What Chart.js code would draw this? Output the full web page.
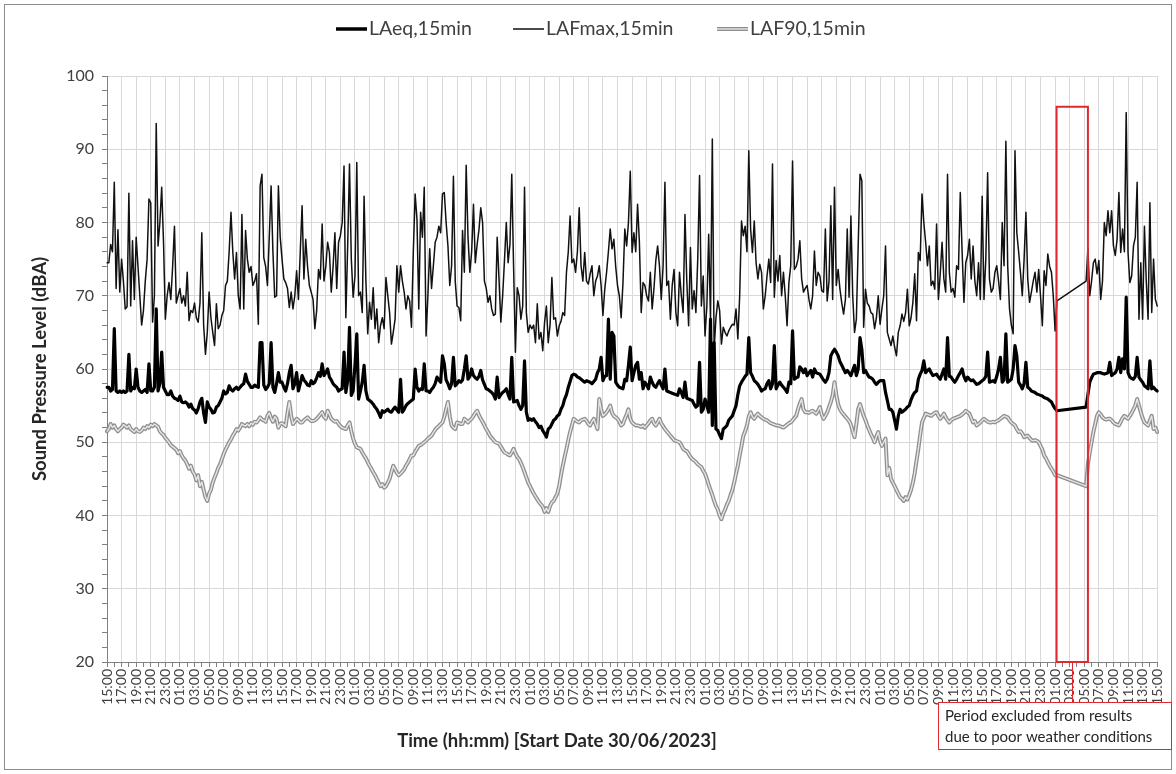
<!DOCTYPE html>
<html>
<head>
<meta charset="utf-8">
<title>Sound Pressure Level</title>
<script src="https://cdn.jsdelivr.net/npm/chart.js@4.4.1/dist/chart.umd.min.js"></script>
<style>
  html, body { margin: 0; padding: 0; background: #fff; }
  #wrap { position: relative; width: 1176px; height: 774px; }
</style>
</head>
<body>
<div id="wrap"><canvas id="splChart"></canvas></div>
<script>
// 15 minute samples from 30/06/2023 15:00, one row = 2 hours (8 samples)
const START_MINUTES = 15 * 60;
const STEP_MINUTES = 15;

const laeq = [
  57.5, 57.5, 57, 57.2, 65.5, 57, 56.8, 57,
  56.8, 57, 56.8, 57, 62, 57, 57.5, 57.3,
  60, 57.5, 57, 56.8, 57, 57.2, 56.8, 60.7,
  57, 57, 57.5, 68.2, 57, 58, 62.3, 57.5,
  57, 56.5, 56.5, 57, 56.3, 56, 55.9, 55.7,
  56.3, 55.5, 55.4, 55.5, 55.3, 54.8, 55.2, 54.6,
  54.4, 54, 54.6, 55.5, 56, 54, 52.7, 55.5,
  54.8, 54.5, 54, 54.1, 54.8, 55, 55.5, 56,
  57, 56.6, 56.8, 57.7, 57.2, 57, 57.3, 57.5,
  57.2, 57.5, 57.8, 58, 59.3, 58.3, 57.9, 57.5,
  57.5, 57.8, 57.6, 57.5, 63.6, 63.6, 57.8, 57.2,
  57.5, 58, 63.6, 57.5, 56.8, 58, 59.5, 58.2,
  58.2, 57.5, 57, 58, 59.5, 60.5, 57.3, 58,
  59.5, 57, 58, 59.1, 58.5, 58.2, 57.8, 57.7,
  58.4, 58, 58.2, 58.8, 59.5, 59, 60.7, 59.1,
  59.5, 60, 58.9, 58.5, 58, 57.7, 57.5, 57,
  57.2, 57.3, 62.3, 56.8, 58.4, 65.7, 56.4, 57,
  60.5, 64.8, 55.9, 57, 58.2, 60.5, 57, 55.9,
  55.7, 55.5, 55.2, 54.8, 54.5, 54, 53.4, 54.3,
  54.1, 54.3, 54.5, 54.2, 54.1, 54.5, 54.8, 54.4,
  54.1, 58.6, 54.1, 54.5, 55, 55.3, 55.5, 55.7,
  55.9, 60, 57.5, 57, 57.3, 57.2, 60.7, 57,
  57, 56.8, 57.2, 57.5, 58, 58.9, 58.5, 58.2,
  61.8, 60.7, 58.5, 58, 57.3, 58, 61.6, 57.7,
  58, 58.4, 58.2, 58.5, 60, 61.8, 58.6, 59,
  60, 59.1, 58.8, 58.6, 59, 59.8, 58.5, 57.9,
  57.3, 57.2, 57, 56.8, 56.5, 55.9, 58.9, 56.1,
  56.5, 56.8, 57, 57.3, 56.5, 55.9, 61.6, 55.5,
  55.6, 55.7, 55, 54.5, 55, 61.1, 54.1, 53,
  53.2, 53, 53.2, 52.8, 52.5, 52, 52.2, 51.6,
  51.2, 50.7, 51.8, 52, 52.5, 53, 53.2, 53.6,
  53.8, 54.5, 55, 55.9, 56.5, 57.5, 58.3, 59.1,
  59.3, 59.2, 58.9, 58.8, 58.6, 58.4, 58.2, 58.4,
  58.3, 58.2, 58, 58.3, 58.6, 59.5, 60, 61.6,
  58.4, 59, 59.1, 66.8, 58.6, 65, 64.5, 58.2,
  57.8, 57.5, 57.4, 57.3, 58.6, 58.4, 60.5, 63,
  58.4, 59.5, 60.5, 60.9, 58.6, 59.5, 57.3, 58.2,
  57.8, 57.3, 58.9, 58.2, 57.7, 57.5, 58, 58.4,
  57.8, 57.3, 60, 57, 56.9, 56.8, 56.7, 56.6,
  56.5, 56.4, 57.3, 56.8, 56.1, 58.2, 56, 55.9,
  55.8, 55.7, 55.2, 54.8, 55, 60.9, 54.1, 54.5,
  55.9, 55, 54.1, 66.8, 52.3, 63.6, 51.8, 51.6,
  51, 50.5, 51.8, 52, 52.3, 53, 53.3, 53.6,
  54.3, 55, 56.5, 57.7, 58.2, 58.6, 59, 59.3,
  64.3, 59.5, 59, 58.4, 58.2, 57.9, 57.5, 57,
  57.2, 57.3, 58, 58.4, 57.3, 58, 63.2, 57.3,
  57.8, 58.2, 57.8, 57.5, 57.2, 56.8, 58.2, 58,
  65.2, 58.6, 58.8, 58.9, 60.3, 60, 59.5, 60,
  59.1, 59.5, 59.8, 58.9, 60, 59.5, 59.4, 59.3,
  58.9, 58.5, 58.2, 58.6, 59.5, 61.8, 62.3, 62.7,
  62.3, 61.8, 61, 60.5, 60, 59.5, 59.8, 59.5,
  59.1, 59.8, 60.5, 59.1, 60, 64.3, 62.7, 59.5,
  59.8, 59.3, 58.9, 58.8, 58.6, 58.2, 57.9, 58.2,
  58.4, 58.4, 58.4, 56.8, 55.7, 54.5, 54.5, 54.1,
  53, 51.8, 53.6, 54.5, 54.1, 54.3, 54.5, 54.8,
  55, 55.8, 56.4, 56.8, 57, 58.6, 59.3, 59.8,
  61.1, 59.5, 59.8, 60, 59.5, 59.1, 59.2, 59.3,
  58.9, 58.6, 59.3, 60, 58.6, 64.3, 59, 58.9,
  58.5, 58.2, 58.6, 59.1, 59.5, 60, 59, 58.4,
  58.9, 58.6, 58.4, 58.5, 58.2, 57.9, 58, 58.2,
  58.4, 58.6, 59, 62.3, 58.2, 58.3, 58.4, 58.2,
  59, 60, 61.6, 58.2, 58.5, 64.8, 58.2, 58.4,
  58.6, 60, 63.2, 61.8, 58.2, 57.8, 57.3, 58,
  60.9, 57.5, 57.3, 57, 56.9, 56.8, 56.6, 56.5,
  56.4, 56.3, 56.1, 56, 55.9, 55.7, 55.5, 55,
  54.6, 54.3, null, null, null, null, null, null,
  null, null, null, null, null, null, null, null,
  null, 54.8, 56.5, 58.2, 58.8, 59.3, 59.4, 59.5,
  59.5, 59.5, 59.4, 59.3, 59.4, 59.5, 60.9, 59.1,
  59.3, 59.5, 60, 61.6, 59.5, 61.4, 60, 69.8,
  59.5, 58.9, 58.7, 58.6, 59, 61.6, 58.9, 58.5,
  58.2, 57.7, 57.5, 57.3, 61.1, 57.3, 57.5, 57.2,
  57
];

const lafmax = [
  74.5, 74.5, 77, 76, 85.5, 71, 79, 70.5,
  75, 72, 68.2, 68.5, 84, 68.6, 77.5, 69.5,
  78, 74, 70, 66, 68, 72, 75, 83.2,
  82.7, 66.4, 70, 93.5, 76.8, 80, 84.8, 77.3,
  66.8, 70, 71.8, 69.5, 74, 79.5, 69, 70,
  71, 69, 70, 68.6, 73.2, 66.6, 68, 67.7,
  69, 67, 66.4, 69, 78.6, 66, 62, 65,
  70.5, 67, 65, 63.2, 68.9, 65.5, 66, 67.3,
  68, 71.4, 72, 76, 81.4, 76, 72.3, 75.9,
  70, 68.2, 81.1, 68.2, 78.9, 75, 73.2, 74,
  71.4, 72, 73, 66.1, 85, 86.6, 75.2, 74,
  71.4, 78, 85, 76, 69.8, 70, 85, 78,
  75, 72.3, 71.8, 71, 68.4, 70.5, 68.2, 70,
  73.4, 69.5, 76, 82.3, 72.3, 77.7, 74, 71.4,
  70.5, 69.5, 65.5, 68, 73.6, 72.3, 79.8, 72,
  74, 77.3, 75.9, 70.5, 74, 78.6, 71, 77.3,
  78.2, 80, 87.7, 67, 76.8, 88, 75, 69.8,
  72.7, 88.2, 70, 70.5, 67.7, 83.6, 72, 64.8,
  69.1, 66.8, 71.1, 65.5, 68.2, 63.6, 65.9, 67,
  65.5, 72.5, 70, 67.7, 63.4, 65, 66.8, 74.1,
  70.5, 74.1, 72, 70.5, 68.2, 70, 69.3, 65.7,
  76, 83.9, 80.5, 68.2, 81.4, 78, 84.8, 64.5,
  70, 76.4, 71, 74.1, 77.3, 78, 79.5, 78.6,
  83.9, 84.1, 80, 76.8, 71.4, 74.1, 86.3, 72,
  68.6, 68.4, 66.6, 78.9, 73.2, 87.8, 78, 73.2,
  76, 82.5, 74.5, 77, 79, 82, 80, 72,
  71, 69.1, 70, 68.2, 67.3, 67.5, 78, 72.3,
  66.4, 70, 74.8, 80, 74.5, 77, 86.6, 74,
  62.3, 71.1, 70, 66.8, 68.6, 84.8, 67.7, 65,
  66, 65.5, 66, 63.6, 68.9, 64.1, 65, 62.5,
  66.4, 68.6, 63.6, 66, 72.5, 66.8, 67, 64.5,
  65.9, 66.5, 67.7, 67.3, 73.2, 76, 80.9, 74.5,
  75, 73.2, 76, 82, 74.1, 72, 75.9, 72,
  71.6, 73, 74.1, 70, 72, 72.7, 74.1, 71.4,
  67.3, 70.9, 73.2, 76, 79.1, 76.4, 77.7, 74,
  71.4, 70, 67, 71.8, 79.1, 76.8, 80, 87,
  75.9, 78.6, 76, 82.5, 77.3, 67.7, 71.8, 71.4,
  70, 69.3, 73.2, 68.2, 71, 74.8, 76.8, 74.1,
  69.5, 74.1, 85.5, 71.4, 72, 66.8, 71.4, 73.6,
  67.7, 65.9, 73.2, 70, 67.7, 81.1, 72, 65.9,
  76.6, 68.2, 70.7, 67.7, 75, 86.4, 68.6, 72.7,
  64.5, 68.6, 78.4, 66.8, 91.4, 62.7, 67, 69.3,
  68, 63.4, 65.7, 65, 64.5, 65.2, 65.7, 66.1,
  66, 68.2, 64.1, 70, 80.2, 78.2, 79.5, 76,
  89.8, 79.1, 75.9, 80.2, 74.5, 72.3, 74.3, 73.2,
  68.2, 70, 72.7, 75, 71.8, 88, 69.8, 74.8,
  72, 75.5, 70, 73.2, 70, 65.9, 71.8, 74.1,
  88.4, 73.6, 74, 75, 77.5, 72.3, 70.5, 71,
  71.4, 69.5, 68.2, 70, 76.1, 71.4, 73.2, 72.7,
  70.7, 70.5, 79.1, 69.3, 72, 82.3, 69.5, 84.8,
  71.4, 73.6, 70.9, 69, 67.5, 69.5, 79.1, 69.8,
  80.9, 70, 65, 66.8, 76.8, 86.6, 85.7, 65.7,
  70.9, 69, 68.6, 67.7, 67.5, 65.5, 67, 70,
  66.1, 68.2, 70, 76.8, 65, 64.1, 63.2, 64.5,
  63, 61.8, 65, 65.9, 67.5, 66.5, 67.7, 70.9,
  65.9, 67, 69.1, 73, 66.6, 75.9, 74.8, 83.9,
  80, 77.3, 74.1, 76.8, 71.4, 72, 70.9, 79.8,
  69.5, 73, 77.3, 72.3, 70.5, 86.6, 73.2, 70.5,
  71, 69.8, 74.1, 73.6, 84.1, 76, 69.1, 74.5,
  75.5, 77.7, 72.3, 76.8, 72, 70, 74.5, 69.5,
  83.6, 69.5, 75, 86.8, 72.3, 70.5, 71, 73.2,
  74.1, 72, 69.5, 80, 74.1, 91.1, 74.1, 68.2,
  66, 64.8, 89.8, 78.6, 76, 73.2, 70, 75,
  81.4, 72.3, 69.1, 70.5, 72, 73.2, 70.5, 73.6,
  70, 65.9, 73.4, 71.4, 75.7, 74, 73.2, 70,
  65.2, 69.3, null, null, null, null, null, null,
  null, null, null, null, null, null, null, null,
  null, 72, 76.4, 70, 72, 74.5, 75, 73,
  74.8, 69.5, 72, 80, 78.2, 81.6, 78.6, 81.6,
  76.8, 75.5, 77.7, 84.1, 75.9, 79.1, 76, 95,
  75.9, 71.8, 72.7, 76.8, 78, 85.5, 66.8, 74.5,
  66.8, 79.5, 72, 66.8, 82.7, 67.7, 75, 69.5,
  68.6
];

const laf90 = [
  51.5, 51.8, 52.5, 52, 52.3, 51.8, 51.5, 51.8,
  52, 52.4, 52.2, 52, 52.3, 51.8, 51.6, 51.4,
  51.8, 51.5, 51.4, 51.6, 52, 51.8, 52.2, 52,
  52.4, 52.2, 52.5, 52.3, 52.1, 51.5, 51.2, 51,
  50.6, 50.3, 50, 49.6, 49.4, 49.2, 49, 48.5,
  48.8, 48.2, 47.8, 47.5, 47, 46.4, 46.8, 46,
  45.6, 44.8, 45.5, 44, 44.6, 43.5, 42.5, 42,
  43, 43.5, 44.5, 45.2, 45.8, 46.5, 47, 47.7,
  48.4, 49, 49.5, 50, 50.4, 50.9, 51.3, 51.8,
  51.6, 52, 52.5, 52.3, 52.2, 52.5, 52.2, 52.6,
  52.4, 52.8, 52.7, 53, 53.4, 53.1, 53, 52.8,
  53.6, 54, 53.3, 52.8, 53.5, 53.2, 52, 52.5,
  52.6, 52.4, 52.2, 54, 55.5, 53.6, 52.5, 52.8,
  53.2, 53, 52.7, 52.7, 53, 53.2, 53.4, 53.1,
  52.9, 52.9, 53, 53.2, 53.5, 53.8, 54.1, 53.5,
  53.2, 54.3, 53.8, 53.2, 53, 52.8, 52.9, 52.5,
  52.2, 52, 51.9, 51.8, 52.3, 52.7, 51.5, 50.5,
  49.8, 49.3, 49.2, 49.1, 48.6, 48.2, 47.8, 47.3,
  46.8, 46.4, 45.9, 45.5, 45, 44.5, 44, 44.3,
  43.8, 44, 44.5, 45, 45.9, 46.8, 46.3, 45.8,
  45.5, 45.7, 46, 46.3, 46.8, 47.2, 47.7, 48.2,
  48.2, 48.7, 49.1, 49.5, 49.6, 49.8, 50, 50.2,
  50.5, 50.7, 50.9, 51.3, 51.7, 52, 52.2, 52.5,
  52.7, 53.5, 54.5, 55.5, 53.5, 52.3, 52, 51.8,
  52.7, 52.6, 52.5, 52.5, 53.2, 53, 52.7, 53,
  53.2, 53.6, 54, 54.3, 53.7, 53.2, 52.8, 52.3,
  51.8, 51.4, 50.9, 50.6, 50.3, 50, 49.9, 49.8,
  49.4, 49, 48.6, 48.5, 48.3, 48.2, 48.6, 49.1,
  48.5, 48, 47.7, 47.2, 46.6, 45.9, 45.2, 44.5,
  44, 43.5, 43, 42.6, 42.2, 41.8, 41.5, 41.2,
  40.5, 41, 40.5, 41.3, 41.8, 42, 42.5, 43,
  44, 45.5, 46.8, 48, 49.1, 50.3, 51.4, 52.3,
  53.2, 53, 52.8, 52.7, 53, 53.1, 53.2, 52.9,
  52.5, 52.3, 52.8, 53.2, 52.5, 51.8, 55.9, 54.5,
  53.6, 53.8, 54.1, 54.5, 55, 54, 53.6, 53.4,
  53.2, 52.8, 52.3, 52.5, 53.2, 53.8, 54.5, 53.2,
  52.7, 52.5, 52.3, 52.3, 52.2, 52.1, 52.3, 52,
  52.3, 52.6, 53, 53.2, 52.6, 52.3, 52.7, 53.2,
  52.6, 52.2, 51.8, 51.5, 51.2, 50.9, 50.6, 50.3,
  50.2, 50.1, 50, 49.6, 49.1, 48.9, 48.8, 48.4,
  48, 47.7, 47.5, 47.3, 47, 46.8, 46.6, 46.1,
  45.7, 45, 44.2, 43.5, 42.8, 42, 41.3, 40.8,
  40, 39.5, 40.3, 40.8, 41.5, 42, 42.8, 43.5,
  44.5, 45.7, 46.8, 48.2, 49.5, 50.9, 51.5, 52.3,
  53.5, 54.1, 53.5, 53.2, 53.6, 53.9, 53.6, 53.4,
  53.2, 53.1, 53, 52.8, 52.6, 52.5, 52.4, 52.3,
  52.3, 52.2, 52.1, 52, 52.2, 52.4, 52.6, 52.7,
  53, 53.3, 53.6, 54.5, 55.3, 55.9, 54.5, 54.1,
  54.1, 54, 54.2, 54.3, 54.1, 53.9, 54.3, 54.8,
  53.8, 53.2, 53.6, 54.1, 54.8, 55.5, 56.4, 58.2,
  56.5, 55.2, 54.5, 54.1, 53.8, 53.5, 53.2, 52.9,
  52.4, 51.5, 50.7, 52.5, 54.5, 55.2, 54.4, 53.6,
  53, 52.3, 51.7, 51.1, 50.6, 50, 50.8, 51.4,
  50.2, 49.5, 50, 50.5, 45.5, 46.5, 45, 44.5,
  44, 43.5, 43, 42.5, 42.3, 42, 42.5, 42.2,
  42.8, 43.5, 44.5, 45.8, 47.5, 49.1, 51, 52.7,
  53.3, 53.9, 53.8, 53.7, 53.6, 53.8, 54, 54.1,
  53.6, 53.2, 53.5, 53.9, 53.4, 53, 52.7, 53,
  53.2, 53.3, 53.4, 53.5, 53.6, 53.8, 54, 54.3,
  54.1, 53.9, 53.3, 52.7, 52.9, 52.3, 52.5, 52.7,
  53, 53.2, 53, 52.8, 52.7, 52.7, 52.8, 52.7,
  52.9, 53, 53.2, 53.4, 53.6, 53.5, 53.4, 53,
  52.7, 52.5, 52.3, 51.8, 51.4, 51.5, 51.2, 50.7,
  50.8, 50.9, 50.6, 50.3, 50.2, 50.3, 50.2, 50,
  49.5, 49, 48.2, 47.8, 47.3, 46.8, 46.4, 46,
  45.5, 45.5, null, null, null, null, null, null,
  null, null, null, null, null, null, null, null,
  null, 44, 47, 48.6, 50, 51.4, 52.5, 53.6,
  54.1, 53.8, 53.4, 53.2, 53.1, 53.2, 53.2, 53,
  52.7, 52.5, 52.4, 52.3, 52.8, 53.3, 53.6, 53.4,
  53.2, 53.6, 54, 54.5, 55, 55.9, 55, 54.1,
  53.3, 52.7, 52.5, 52.3, 53, 53.6, 51.8, 52,
  51.4
];

// excluded period, in sample positions (about 01:00 to 05:00 on 06/07)
const excludedFrom = 520.8;
const excludedTo = 538;
const excludedTopDb = 95.8;

const timeLabels = laeq.map((_, i) => {
  const m = (START_MINUTES + i * STEP_MINUTES) % 1440;
  return String(Math.floor(m / 60)).padStart(2, '0') + ':' + String(m % 60).padStart(2, '0');
});

const FONT = 'Lato, "Open Sans", sans-serif';
const TEXT = '#404040';

const decorations = {
  id: 'decorations',
  afterDraw(chart) {
    const { ctx, chartArea: a, scales: { x, y } } = chart;
    ctx.save();

    // frame round the whole chart
    ctx.strokeStyle = '#8c8c8c';
    ctx.lineWidth = 1;
    ctx.strokeRect(4.5, 4.5, 1167, 765);

    // legend
    function line(x0, yy, col, w) {
      ctx.beginPath();
      ctx.strokeStyle = col;
      ctx.lineWidth = w;
      ctx.moveTo(x0, yy);
      ctx.lineTo(x0 + 31, yy);
      ctx.stroke();
    }
    const items = [
      { x: 336, label: 'LAeq,15min', draw: (x0, yy) => line(x0, yy, '#000', 3.5) },
      { x: 513, label: 'LAFmax,15min', draw: (x0, yy) => line(x0, yy, '#111', 1.5) },
      { x: 717, label: 'LAF90,15min', draw: (x0, yy) => { line(x0, yy, '#8f8f8f', 4); line(x0, yy, '#e6e6e6', 1.4); } }
    ];
    ctx.font = '19.5px ' + FONT;
    ctx.fillStyle = TEXT;
    ctx.textBaseline = 'middle';
    ctx.textAlign = 'left';
    items.forEach(it => {
      it.draw(it.x, 29);
      ctx.fillText(it.label, it.x + 33, 29);
    });

    // axis titles
    ctx.fillStyle = '#262626';
    ctx.font = 'bold 18.5px ' + FONT;
    ctx.textAlign = 'center';
    ctx.fillText('Time (hh:mm) [Start Date 30/06/2023]', 557, 741);
    ctx.save();
    ctx.translate(40, (a.top + a.bottom) / 2);
    ctx.rotate(-Math.PI / 2);
    ctx.fillText('Sound Pressure Level (dBA)', 0, 0);
    ctx.restore();

    // excluded period box + note
    const x0 = x.getPixelForValue(excludedFrom);
    const x1 = x.getPixelForValue(excludedTo);
    const yTop = y.getPixelForValue(excludedTopDb);
    ctx.strokeStyle = '#e0282e';
    ctx.lineWidth = 2;
    ctx.strokeRect(x0, yTop, x1 - x0, a.bottom - yTop);

    ctx.lineWidth = 1;
    const cx = Math.round((x0 + x1) / 2) + 0.5;
    ctx.beginPath();
    ctx.moveTo(cx, a.bottom);
    ctx.lineTo(cx, 703);
    ctx.stroke();
    ctx.fillStyle = '#fff';
    ctx.fillRect(939, 703, 232, 46);
    ctx.strokeRect(938.5, 702.5, 233, 47);

    ctx.fillStyle = '#262626';
    ctx.font = '15px ' + FONT;
    ctx.textAlign = 'left';
    ctx.fillText('Period excluded from results', 945, 716);
    ctx.fillText('due to poor weather conditions', 945, 737);

    ctx.restore();
  }
};

const ctx = document.getElementById('splChart');

new Chart(ctx, {
  type: 'line',
  data: {
    labels: timeLabels,
    datasets: [
      { label: 'LAeq,15min', data: laeq, borderColor: '#000', borderWidth: 3.2, order: 0 },
      { label: 'LAFmax,15min', data: lafmax, borderColor: '#111', borderWidth: 1.5, order: 1 },
      { label: 'LAF90,15min', data: laf90, borderColor: '#e6e6e6', borderWidth: 1.4, order: 2 },
      { label: 'LAF90 outline', data: laf90, borderColor: '#8f8f8f', borderWidth: 4, order: 3 }
    ]
  },
  options: {
    responsive: true,
    maintainAspectRatio: false,
    animation: false,
    spanGaps: true,
    elements: {
      point: { radius: 0 },
      line: { tension: 0, borderJoinStyle: 'round', borderCapStyle: 'round' }
    },
    layout: { padding: { top: 76, right: 18, left: 0, bottom: 0 } },
    plugins: { legend: { display: false }, tooltip: { enabled: false } },
    scales: {
      x: {
        type: 'category',
        border: { color: '#808080' },
        grid: {
          color: c => (c.index % 8 === 0 ? '#d9d9d9' : 'transparent'),
          tickColor: c => (c.index % 4 === 0 ? '#808080' : 'transparent'),
          tickLength: 5
        },
        ticks: {
          autoSkip: false,
          minRotation: 90,
          maxRotation: 90,
          padding: 2,
          color: TEXT,
          font: { family: FONT, size: 14 },
          callback: (v, i) => (i % 8 === 0 ? timeLabels[i] : '')
        },
        afterFit: s => { s.height = 774 - 662; }
      },
      y: {
        min: 20,
        max: 100,
        border: { color: '#808080' },
        grid: {
          color: c => (c.tick.value % 10 === 0 ? '#d9d9d9' : 'transparent'),
          tickColor: '#808080',
          tickLength: 5
        },
        ticks: {
          stepSize: 2,
          autoSkip: false,
          padding: 8,
          color: TEXT,
          font: { family: FONT, size: 16 },
          callback: v => (v % 10 === 0 ? v : '')
        },
        afterFit: s => { s.width = 107; }
      }
    }
  },
  plugins: [decorations]
});
</script>
</body>
</html>
